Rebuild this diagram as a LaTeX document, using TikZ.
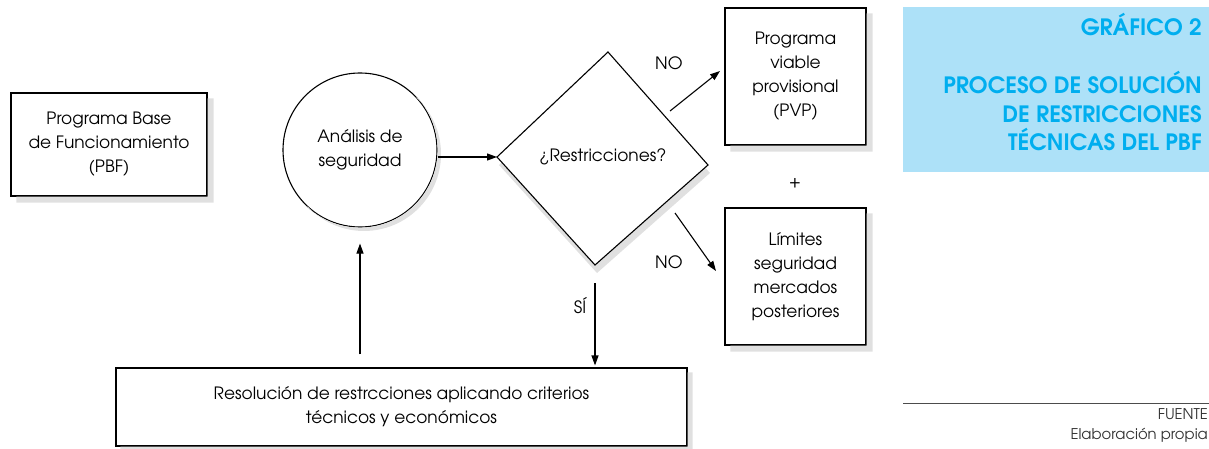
\documentclass[tikz,border=0pt]{standalone}
\usepackage{fontspec}
\setmainfont{TeX Gyre Adventor}
\usetikzlibrary{arrows.meta}
\definecolor{titlebg}{HTML}{ADE1F8}
\definecolor{titlefg}{HTML}{00AEEF}
\definecolor{shadowgray}{HTML}{E0E0E0}
\tikzset{
  box/.style={draw=black, line width=1.1pt, fill=white, align=center, inner sep=0pt,
    font=\fontsize{17}{24}\selectfont},
  arr/.style={line width=1.1pt, -{Triangle[length=10pt,width=7pt]}},
  lbl/.style={font=\fontsize{17}{24}\selectfont, inner sep=0pt},
  ttl/.style={font=\fontsize{22.5}{24}\selectfont\bfseries, text=titlefg, anchor=base east, inner sep=0pt},
  foot/.style={font=\fontsize{14.8}{18}\selectfont, text=black!80, anchor=base east, inner sep=0pt},
  shadowfill/.style={fill=shadowgray},
}
\begin{document}
\begin{tikzpicture}[x=1pt,y=-1pt]
\useasboundingbox (0,0) rectangle (1209,449);
% nodes
\node[box, minimum width=196pt, minimum height=103pt] (pbf) at (109,144.5)
  {Programa Base\\de Funcionamiento\\(PBF)};
\node[box, circle, minimum size=154pt] (circ) at (360,150) {Análisis de\\seguridad};
\node[box, minimum width=141pt, minimum height=137pt] (pvp) at (795.5,76.5)
  {Programa\\viable\\provisional\\(PVP)};
\node[box, minimum width=141pt, minimum height=137pt] (lim) at (795.5,276.5)
  {Límites\\seguridad\\mercados\\posteriores};
\node[box, minimum width=571pt, minimum height=78pt] (res) at (401.5,407)
  {Resolución de restrcciones aplicando criterios\\técnicos y económicos};
\node[lbl] (plus) at (795,183) {+};
% shadows of the boxes (L-shaped, outside each box)
\foreach \n/\s in {pbf/6, pvp/6, lim/6, res/5}{
  \fill[shadowfill] ([shift={(0,\s)}]\n.north east) -- ([shift={(\s,\s)}]\n.north east)
    -- ([shift={(\s,\s)}]\n.south east) -- ([shift={(\s,\s)}]\n.south west)
    -- ([shift={(\s,0)}]\n.south west) -- (\n.south east) -- cycle;
}
% shadow of the circle (crescent)
\fill[shadowfill] ([shift={(4,4)}]circ.center) ++(-47:77) arc[start angle=-47, end angle=137, radius=77]
  -- ([shift={(133:77.6)}]circ.center) arc[start angle=133, end angle=-43, radius=77.6] -- cycle;
% diamond with its shadow
\coordinate (dL) at (497,157);
\coordinate (dT) at (608,52);
\coordinate (dR) at (708,165);
\coordinate (dB) at (595,265);
\fill[shadowfill] ([shift={(2,8)}]dL) -- ([shift={(2,8)}]dT) -- ([shift={(2,8)}]dR) -- ([shift={(2,8)}]dB) -- cycle;
\filldraw[draw=black, fill=white, line width=1.1pt, line join=miter] (dL) -- (dT) -- (dR) -- (dB) -- cycle;
\node[lbl] (dtext) at (603,157) {¿Restricciones?};
% arrows
\draw[arr] (circ.east |- dL) -- (dL);
\coordinate (n1s) at (670,111);
\coordinate (n1e) at (720,71);
\draw[arr] (n1s) -- (n1e);
\coordinate (n2s) at (675,213);
\coordinate (n2e) at (716,271);
\draw[arr] (n2s) -- (n2e);
\draw[arr, shorten <=18pt, shorten >=2pt] (dB) -- (dB |- res.north);
\draw[arr, shorten <=13pt, shorten >=16pt] (res.north -| circ.south) -- (circ.south);
\node[lbl] (no1) at (669,63) {NO};
\node[lbl] (no2) at (669,262) {NO};
\node[lbl] (si) at (580,306) {SÍ};
% title
\fill[titlebg] (903,7) rectangle (1209,172);
\node[ttl] (t1) at (1202,36) {GRÁFICO 2};
\node[ttl] (t2) at (1202,94) {PROCESO DE SOLUCIÓN};
\node[ttl] (t3) at (1202,123) {DE RESTRICCIONES};
\node[ttl] (t4) at (1202,151) {TÉCNICAS DEL PBF};
% footer
\draw[line width=1pt, black!70] (903,403) -- (1209,403);
\node[foot] (f1) at (1208,419) {FUENTE};
\node[foot] (f2) at (1208,439) {Elaboración propia};
\end{tikzpicture}
\end{document}
